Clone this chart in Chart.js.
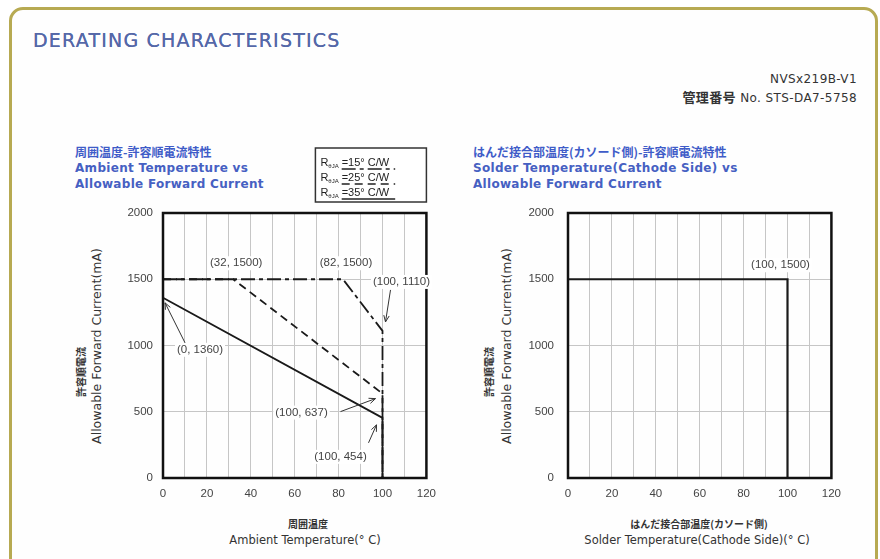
<!DOCTYPE html>
<html>
<head>
<meta charset="utf-8">
<script src="https://cdn.jsdelivr.net/npm/chart.js@4/dist/chart.umd.min.js"></script>
<style>
  html, body { margin: 0; padding: 0; width: 880px; height: 559px; overflow: hidden; background: #fff; }
  #frame { position: absolute; left: 9px; top: 7px; width: 869px; height: 590px; border: 3px solid #b7aa52;
           border-radius: 14px; box-sizing: border-box; background: #fefefe; }
  .t { position: absolute; white-space: nowrap; line-height: 1; }
  .title { left: 33px; top: 29px; font: 19px "DejaVu Sans", sans-serif; letter-spacing: 1.2px; color: #5568a8;
           text-shadow: 0 0 0.6px #5568a8; }
  .doc { right: 23px; font: 12px "DejaVu Sans", sans-serif; letter-spacing: 0.4px; color: #333; text-align: right; }
  .jp { font: bold 13px "Noto Sans CJK JP", sans-serif; }
  .sub { font: bold 12px "DejaVu Sans", sans-serif; letter-spacing: 0.3px; color: #4660c2; }
  .subjp { font: bold 12px "Noto Sans CJK JP", sans-serif; color: #3f5cc8; }
  .ax { font: 11.5px "DejaVu Sans", sans-serif; color: #333; transform: translateX(-50%); }
  .axjp { font: bold 10px "Noto Sans CJK JP", sans-serif; color: #333; transform: translateX(-50%); }
  .yax { font: 12.5px "DejaVu Sans", sans-serif; color: #333; transform: translate(-50%, -50%) rotate(-90deg); }
  .yaxjp { font: bold 10px "Noto Sans CJK JP", sans-serif; color: #333; transform: translate(-50%, -50%) rotate(-90deg); }
  canvas { position: absolute; }
</style>
</head>
<body>
<div id="frame"></div>
<div class="t title">DERATING CHARACTERISTICS</div>
<div class="t doc" style="top:72px">NVSx219B-V1</div>
<div class="t doc" style="top:87px"><span class="jp">管理番号</span> No. STS-DA7-5758</div>

<div class="t subjp" style="left:75px;top:143px">周囲温度-許容順電流特性</div>
<div class="t sub" style="left:75px;top:161px">Ambient Temperature vs</div>
<div class="t sub" style="left:75px;top:177px">Allowable Forward Current</div>

<div class="t subjp" style="left:473px;top:143px">はんだ接合部温度(カソード側)-許容順電流特性</div>
<div class="t sub" style="left:473px;top:161px">Solder Temperature(Cathode Side) vs</div>
<div class="t sub" style="left:473px;top:177px">Allowable Forward Current</div>

<div class="t yaxjp" style="left:80px;top:372px">許容順電流</div>
<div class="t yax" style="left:96px;top:346px">Allowable Forward Current(mA)</div>
<div class="t yaxjp" style="left:488px;top:372px">許容順電流</div>
<div class="t yax" style="left:506px;top:346px">Allowable Forward Current(mA)</div>

<div class="t axjp" style="left:308px;top:516px">周囲温度</div>
<div class="t ax" style="left:305px;top:533px">Ambient Temperature(° C)</div>
<div class="t axjp" style="left:699px;top:516px">はんだ接合部温度(カソード側)</div>
<div class="t ax" style="left:697px;top:533px">Solder Temperature(Cathode Side)(° C)</div>

<canvas id="left" width="385" height="375" style="left:60px;top:140px"></canvas>
<canvas id="right" width="385" height="375" style="left:465px;top:140px"></canvas>

<script>
// Axis ranges and ticks
const xMin = 0, xMax = 120, xGridStep = 10, xLabelStep = 20;
const yMin = 0, yMax = 2000, yStep = 500;

// Ambient temperature derating, one curve per thermal resistance Rθja (°C/W)
const rthLabels = ['15', '25', '35'];
const ambientT15 = [0, 82, 100, 100];
const ambientI15 = [1500, 1500, 1110, 0];
const ambientT25 = [0, 32, 100, 100];
const ambientI25 = [1500, 1500, 637, 0];
const ambientT35 = [0, 100, 100];
const ambientI35 = [1360, 454, 0];

// Solder (cathode side) temperature derating
const solderT = [0, 100, 100];
const solderI = [1500, 1500, 0];

// Annotated corner points
const ambientNoteT = [32, 82, 100, 0, 100, 100];
const ambientNoteI = [1500, 1500, 1110, 1360, 637, 454];
const solderNoteT = [100];
const solderNoteI = [1500];

const dashStyles = [[14, 4, 4, 4], [8, 5], []];
const toPoints = (xs, ys) => xs.map((x, i) => ({ x, y: ys[i] }));

// label offsets and leader arrows (pixels relative to the annotated point)
const ambientNoteLayout = [
  { dx: 3, dy: -16 },
  { dx: 3, dy: -16 },
  { dx: 19, dy: -49, arrow: [8, -41, 3, -9] },
  { dx: 37, dy: 52, arrow: [22, 45, 2, 5] },
  { dx: -81, dy: 19, arrow: [-42, 18, -7, 5] },
  { dx: -42, dy: 39, arrow: [-14, 25, -6, 7] }
];
const solderNoteLayout = [{ dx: -7, dy: -14 }];

const INK = '#1a1a1a';

const framePlugin = {
  id: 'frameBox',
  afterDatasetsDraw(chart) {
    const a = chart.chartArea, c = chart.ctx;
    c.save();
    c.strokeStyle = '#111';
    c.lineWidth = 2.5;
    c.strokeRect(a.left, a.top, a.right - a.left, a.bottom - a.top);
    c.restore();
  }
};

const notesPlugin = {
  id: 'pointNotes',
  afterDraw(chart, args, opts) {
    const c = chart.ctx, xs = chart.scales.x, ys = chart.scales.y;
    c.save();
    c.font = '11.5px "Liberation Sans", sans-serif';
    c.textAlign = 'center';
    c.textBaseline = 'middle';
    opts.xs.forEach((xv, i) => {
      const yv = opts.ys[i], lay = opts.layout[i];
      const px = xs.getPixelForValue(xv), py = ys.getPixelForValue(yv);
      const text = '(' + xv + ', ' + yv + ')';
      const lx = px + lay.dx, ly = py + lay.dy;
      const w = c.measureText(text).width;
      c.fillStyle = '#fff';
      c.fillRect(lx - w / 2 - 2, ly - 7, w + 4, 14);
      c.fillStyle = '#444';
      c.fillText(text, lx, ly);
      if (lay.arrow) {
        const [x0, y0, x1, y1] = lay.arrow;
        const ax = px + x0, ay = py + y0, bx = px + x1, by = py + y1;
        c.strokeStyle = '#333';
        c.lineWidth = 1;
        c.beginPath();
        c.moveTo(ax, ay);
        c.lineTo(bx, by);
        const ang = Math.atan2(by - ay, bx - ax);
        const hl = 7;
        c.moveTo(bx - hl * Math.cos(ang - 0.4), by - hl * Math.sin(ang - 0.4));
        c.lineTo(bx, by);
        c.lineTo(bx - hl * Math.cos(ang + 0.4), by - hl * Math.sin(ang + 0.4));
        c.stroke();
      }
    });
    c.restore();
  }
};

const rthLegendPlugin = {
  id: 'rthLegend',
  afterDraw(chart, args, opts) {
    if (!opts.show) return;
    const c = chart.ctx, a = chart.chartArea;
    const bw = 111, bh = 54;
    const bx = a.right - bw, by = a.top - 65;
    c.save();
    c.fillStyle = '#fff';
    c.fillRect(bx, by, bw, bh);
    c.strokeStyle = '#333';
    c.lineWidth = 1.5;
    c.strokeRect(bx, by, bw, bh);
    c.textBaseline = 'alphabetic';
    c.fillStyle = '#222';
    rthLabels.forEach((r, i) => {
      const base = by + 18 + i * 15;
      let x = bx + 5;
      c.font = '11px "Liberation Sans", sans-serif';
      c.fillText('R', x, base);
      x += c.measureText('R').width;
      c.font = '6px "Liberation Sans", sans-serif';
      c.fillText('θJA', x, base + 2);
      x += c.measureText('θJA').width + 3;
      c.font = '11px "Liberation Sans", sans-serif';
      const s = '=' + r + '° C/W';
      c.fillText(s, x, base);
      const ds = chart.data.datasets[i];
      c.strokeStyle = '#222';
      c.lineWidth = 1.3;
      c.setLineDash(ds.borderDash || []);
      c.beginPath();
      c.moveTo(x, base + 3);
      c.lineTo(x + c.measureText(s).width + 6, base + 3);
      c.stroke();
      c.setLineDash([]);
    });
    c.restore();
  }
};

function makeChart(id, datasets, noteXs, noteYs, layout, showLegend, yPad) {
  return new Chart(document.getElementById(id), {
    type: 'line',
    data: { datasets },
    options: {
      responsive: false,
      animation: false,
      events: [],
      layout: { padding: { left: 0, top: 73, right: 17, bottom: 12 } },
      plugins: {
        legend: { display: false },
        tooltip: { enabled: false },
        pointNotes: { xs: noteXs, ys: noteYs, layout },
        rthLegend: { show: showLegend }
      },
      elements: { point: { radius: 0 }, line: { tension: 0 } },
      scales: {
        x: {
          type: 'linear', min: xMin, max: xMax,
          afterFit: s => { s.height = 25; },
          afterBuildTicks: s => {
            s.ticks = [];
            for (let v = xMin; v <= xMax; v += xGridStep) s.ticks.push({ value: v });
          },
          ticks: {
            padding: 9, maxRotation: 0, autoSkip: false,
            color: '#444', font: { family: 'Liberation Sans', size: 11.5 },
            callback: v => (v % xLabelStep === 0 ? String(v) : '')
          },
          grid: { color: '#c6c6c6', lineWidth: 1, drawTicks: false },
          border: { display: false }
        },
        y: {
          type: 'linear', min: yMin, max: yMax,
          afterFit: s => { s.width = 103; },
          ticks: {
            stepSize: yStep, padding: yPad,
            color: '#444', font: { family: 'Liberation Sans', size: 11.5 },
            callback: v => String(v)
          },
          grid: { color: '#c6c6c6', lineWidth: 1, drawTicks: false },
          border: { display: false }
        }
      }
    },
    plugins: [framePlugin, notesPlugin, rthLegendPlugin]
  });
}

const lineStyle = (pts, dash, w) => ({
  data: pts, borderColor: INK, borderWidth: w, borderDash: dash,
  fill: false, pointRadius: 0, clip: 2
});

makeChart('left', [
  Object.assign(lineStyle(toPoints(ambientT15, ambientI15), dashStyles[0], 1.8), { label: 'Rθja=15°C/W' }),
  Object.assign(lineStyle(toPoints(ambientT25, ambientI25), dashStyles[1], 1.8), { label: 'Rθja=25°C/W' }),
  Object.assign(lineStyle(toPoints(ambientT35, ambientI35), dashStyles[2], 1.8), { label: 'Rθja=35°C/W' })
], ambientNoteT, ambientNoteI, ambientNoteLayout, true, 10);

makeChart('right', [
  Object.assign(lineStyle(toPoints(solderT, solderI), [], 2.2), { label: 'Solder' })
], solderNoteT, solderNoteI, solderNoteLayout, false, 14);
</script>
</body>
</html>
